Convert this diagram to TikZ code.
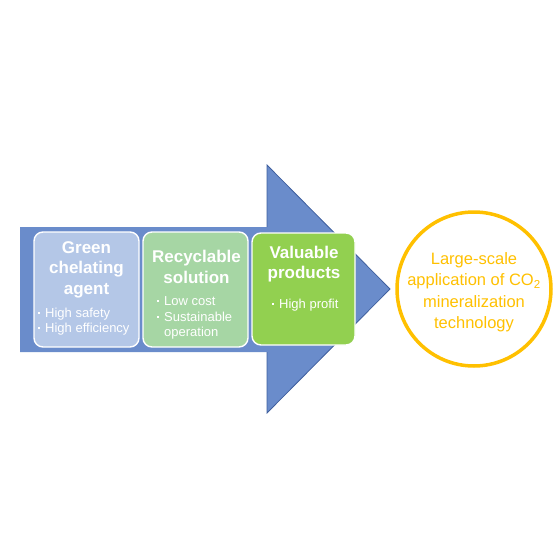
\documentclass[tikz,border=0pt]{standalone}
\usepackage{fontspec}
\setmainfont{Liberation Sans}
\usetikzlibrary{positioning}
\definecolor{flowblue}{HTML}{6A8CCB}
\definecolor{flowedge}{HTML}{3F5F9E}
\definecolor{agentblue}{HTML}{B4C7E7}
\definecolor{solgreen}{HTML}{A6D6A4}
\definecolor{prodgreen}{HTML}{92D050}
\definecolor{goalgold}{HTML}{FFC000}
\newcommand{\dotitem}{\makebox[9pt][l]{\hspace{1.5pt}\rule[0.27em]{1.8pt}{1.8pt}}}
\tikzset{
  stage/.style={draw=white, line width=1.4pt, rounded corners=9pt, minimum width=105pt, minimum height=115pt},
  ttl/.style={font=\fontsize{17}{20.5}\selectfont\bfseries, text=white, align=center, inner sep=0pt},
  pts/.style={font=\fontsize{13}{15.5}\selectfont, text=white, align=left, inner sep=0pt, anchor=north west},
  goal/.style={circle, draw=goalgold, line width=3.5pt, minimum size=154pt, inner sep=0pt},
  goaltxt/.style={font=\fontsize{16.5}{21.5}\selectfont, text=goalgold, align=center, inner sep=0pt},
}

\begin{document}
\begin{tikzpicture}[x=1pt, y=-1pt]
    \useasboundingbox (0,0) rectangle (560,560);
    % big arrow behind the stages
    \fill[flowblue] (20,227) -- (267,227) -- (267,165) -- (390,289) -- (267,413) -- (267,352) -- (20,352) -- cycle;
    \draw[flowedge, line width=0.8pt] (267,227) -- (267,165) -- (390,289) -- (267,413) -- (267,352);
    \node[stage, fill=agentblue] (agent) at (86.5,289.5) {};
    \node[stage, fill=solgreen] (sol) at (195.5,289.5) {};
    \node[stage, fill=prodgreen, minimum width=103pt, minimum height=112pt] (prod) at (303.5,289) {};
    \node[ttl] (agentttl) at (86.5,269.5) {Green\\chelating\\agent};
    \node[pts] (agentpts) at (36,307.5) {\dotitem High safety\\\dotitem High efficiency};
    \node[ttl] (solttl) at (196.5,267) {Recyclable\\solution};
    \node[pts] (solpts) at (155,296.5) {\dotitem Low cost\\\dotitem Sustainable\\\phantom{\dotitem}operation};
    \node[pts] (prodpts) at (270,298.5) {\dotitem High profit};
    \node[ttl] (prodttl) at (304,264) {Valuable\\products};
    % target
    \node[goal] (goalc) at (474,289) {};
    \node[goaltxt] (goallbl) at (474,292) {Large-scale\\application of CO\textsubscript{2}\\mineralization\\technology};
  \end{tikzpicture}
\end{document}
